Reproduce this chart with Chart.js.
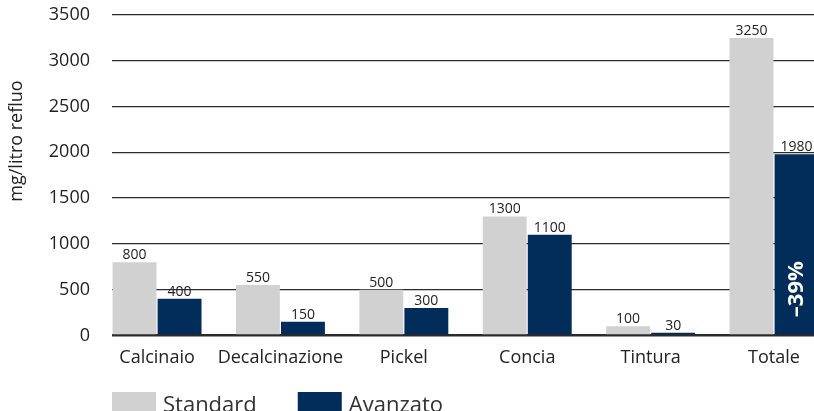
<!DOCTYPE html>
<html>
<head>
<meta charset="utf-8">
<script src="https://cdn.jsdelivr.net/npm/chart.js@4/dist/chart.umd.min.js"></script>
<style>
  html, body { margin: 0; padding: 0; background: #ffffff; overflow: hidden; }
  #wrap { position: relative; width: 814px; height: 411px; }
</style>
</head>
<body>
<div id="wrap"><canvas id="c"></canvas></div>
<script>
const categories = ['Calcinaio', 'Decalcinazione', 'Pickel', 'Concia', 'Tintura', 'Totale'];
const standardValues = [800, 550, 500, 1300, 100, 3250];
const avanzatoValues = [400, 150, 300, 1100, 30, 1980];
const seriesNames = ['Standard', 'Avanzato'];
const yTicks = [0, 500, 1000, 1500, 2000, 2500, 3000, 3500];
const yTitle = 'mg/litro refluo';
const reductionLabel = '–39%';

const FONT = '"Open Sans", "Noto Sans", sans-serif';
const TEXT = '#222222';
const GRAY = '#d1d1d1';
const NAVY = '#022d5b';

const labelPlugin = {
  id: 'labels',
  afterDatasetsDraw(chart) {
    const ctx = chart.ctx;
    ctx.save();
    ctx.font = '500 14px ' + FONT;
    ctx.fillStyle = TEXT;
    ctx.textAlign = 'center';
    ctx.textBaseline = 'alphabetic';
    chart.data.datasets.forEach((ds, di) => {
      const meta = chart.getDatasetMeta(di);
      meta.data.forEach((el, i) => {
        ctx.fillText(String(ds.data[i].y), el.x, el.y - 3);
      });
    });
    const meta = chart.getDatasetMeta(1);
    const el = meta.data[meta.data.length - 1];
    ctx.save();
    ctx.translate(el.x, el.base - 45);
    ctx.rotate(-Math.PI / 2);
    ctx.font = 'bold 22px ' + FONT;
    ctx.fillStyle = '#ffffff';
    ctx.textAlign = 'center';
    ctx.textBaseline = 'middle';
    ctx.fillText(reductionLabel, 0, 0);
    ctx.restore();
    ctx.restore();
  },
  afterDraw(chart) {
    const ctx = chart.ctx;
    const area = chart.chartArea;
    ctx.save();
    ctx.translate(17, 141);
    ctx.rotate(-Math.PI / 2);
    ctx.font = '500 18px ' + FONT;
    ctx.fillStyle = TEXT;
    ctx.textAlign = 'center';
    ctx.textBaseline = 'middle';
    ctx.fillText(yTitle, 0, 0);
    ctx.restore();
    ctx.save();
    ctx.font = '22px ' + FONT;
    ctx.textBaseline = 'alphabetic';
    ctx.textAlign = 'left';
    let x = area.left;
    const top = 392;
    chart.data.datasets.forEach((ds) => {
      ctx.fillStyle = ds.backgroundColor;
      ctx.fillRect(x, top, 44, 20);
      ctx.fillStyle = '#333333';
      ctx.fillText(ds.label, x + 51, 412);
      x += 51 + ctx.measureText(ds.label).width + 41;
    });
    ctx.restore();
  }
};

new Chart(document.getElementById('c'), {
  type: 'bar',
  data: {
    datasets: [
      { label: seriesNames[0], data: standardValues.map((v, i) => ({ x: i, y: v })), backgroundColor: GRAY },
      { label: seriesNames[1], data: avanzatoValues.map((v, i) => ({ x: i, y: v })), backgroundColor: NAVY }
    ]
  },
  options: {
    responsive: true,
    maintainAspectRatio: false,
    animation: false,
    devicePixelRatio: 1,
    categoryPercentage: 0.73,
    barPercentage: 0.975,
    layout: { padding: { top: 15, right: 0, left: 0, bottom: 38 } },
    plugins: { legend: { display: false }, tooltip: { enabled: false } },
    scales: {
      x: {
        type: 'linear',
        offset: false,
        min: -0.365,
        max: 5.324,
        grid: { display: false },
        border: { display: false },
        afterBuildTicks: (s) => { s.ticks = categories.map((c, i) => ({ value: i })); },
        ticks: {
          autoSkip: false,
          maxRotation: 0,
          minRotation: 0,
          padding: 4,
          color: TEXT,
          font: { family: FONT, size: 18, weight: '500' },
          callback: (v) => categories[v] ?? ''
        }
      },
      y: {
        min: 0,
        max: 3500,
        afterBuildTicks: (s) => { s.ticks = yTicks.map(v => ({ value: v })); },
        afterFit: (s) => { s.width = 112; s.paddingTop = 0; s.paddingBottom = 0; },
        border: { display: false },
        grid: {
          drawTicks: false,
          color: '#2b2b2b',
          lineWidth: (c) => (c.tick && c.tick.value === 0 ? 2.5 : 1.3)
        },
        ticks: {
          padding: 22,
          color: TEXT,
          font: { family: FONT, size: 18, weight: '500' },
          callback: (v) => String(v)
        }
      }
    }
  },
  plugins: [labelPlugin]
});
</script>
</body>
</html>
